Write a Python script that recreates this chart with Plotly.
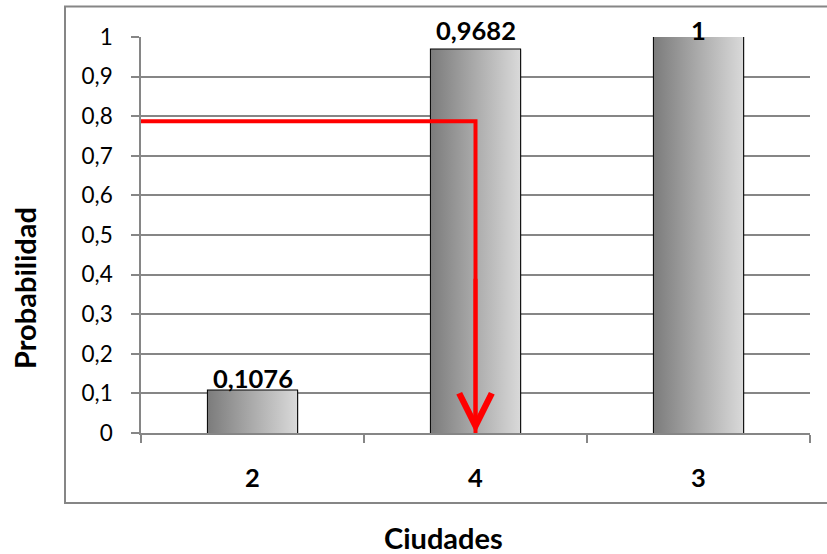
import plotly.graph_objects as go

# Data
ciudades = ["2", "4", "3"]
probabilidad = [0.1076, 0.9682, 1.0]
etiquetas = ["0,1076", "0,9682", "1"]
y_tick_vals = [0, 0.1, 0.2, 0.3, 0.4, 0.5, 0.6, 0.7, 0.8, 0.9, 1.0]
y_tick_text = ["0", "0,1", "0,2", "0,3", "0,4", "0,5", "0,6", "0,7", "0,8", "0,9", "1"]
valor_aleatorio = 0.787          # level of the red reading line
ciudad_elegida = "4"             # category the arrow lands on

# Page geometry (pixels)
W, H = 827, 554
ML, MR, MT, MB = 141, 17, 37, 121
PW = W - ML - MR
PH = H - MT - MB


def paper_x(px):
    return (px - ML) / PW


def paper_y(py):
    return (H - MB - py) / PH


FONT = "Lato"
GRID = "#868686"
BAR_W = 0.4
GRADIENT = [[0.0, "#7c7c7c"], [0.5, "#ababab"], [1.0, "#d9d9d9"]]
LABEL_SHIFT = [12, 20, 7]        # px from bar top to label centre

x_pos = list(range(len(ciudades)))
x_elegida = ciudades.index(ciudad_elegida)

fig = go.Figure()

# soft shadow behind each bar
for i, v in zip(x_pos, probabilidad):
    x0, x1 = i - BAR_W / 2, i + BAR_W / 2
    fig.add_trace(go.Bar(
        x=[i], y=[v], width=BAR_W, offset=-BAR_W / 2 + 0.008,
        marker=dict(color="rgba(0,0,0,0.12)", line=dict(width=0)),
        hoverinfo="skip", showlegend=False,
    ))

# gradient fill of each bar
for i, v in zip(x_pos, probabilidad):
    x0, x1 = i - BAR_W / 2, i + BAR_W / 2
    fig.add_trace(go.Scatter(
        x=[x0, x1, x1, x0, x0], y=[0, 0, v, v, 0],
        mode="lines", fill="toself",
        fillgradient=dict(type="horizontal", colorscale=GRADIENT),
        line=dict(width=0), hoverinfo="skip", showlegend=False,
    ))

# bar outlines
fig.add_trace(go.Bar(
    x=x_pos, y=probabilidad, width=BAR_W,
    marker=dict(color="rgba(0,0,0,0)", line=dict(color="black", width=2)),
    hoverinfo="skip", showlegend=False,
))

# red reading line: across from the axis, then down to the chosen city
fig.add_trace(go.Scatter(
    x=[-0.5, x_elegida, x_elegida], y=[valor_aleatorio, valor_aleatorio, 0],
    mode="lines", line=dict(color="red", width=4),
    hoverinfo="skip", showlegend=False,
))
fig.add_annotation(
    x=x_elegida, y=0, ax=x_elegida, ay=valor_aleatorio * 0.5,
    xref="x", yref="y", axref="x", ayref="y",
    text="", showarrow=True, arrowhead=5, arrowsize=1.6, arrowwidth=4,
    arrowcolor="red", standoff=0,
)

# value labels
for i, v, t, s in zip(x_pos, probabilidad, etiquetas, LABEL_SHIFT):
    fig.add_annotation(
        x=i, y=v, text=t, showarrow=False, yanchor="middle", yshift=s,
        font=dict(family=FONT, size=25.5, color="black", weight="bold"),
    )

# axis titles
fig.add_annotation(
    x=paper_x(443.5), y=paper_y(537), xref="paper", yref="paper",
    text="Ciudades", showarrow=False, xanchor="center", yanchor="middle",
    font=dict(family=FONT, size=29, color="black", weight="bold"),
)
fig.add_annotation(
    x=paper_x(24), y=paper_y(288), xref="paper", yref="paper",
    text="Probabilidad", showarrow=False, textangle=-90,
    xanchor="center", yanchor="middle",
    font=dict(family=FONT, size=29, color="black", weight="bold"),
)

# chart frame
fig.add_shape(
    type="rect", xref="paper", yref="paper",
    x0=paper_x(65), x1=paper_x(840), y0=paper_y(503), y1=paper_y(6.5),
    line=dict(color=GRID, width=2), fillcolor="rgba(0,0,0,0)", layer="below",
)

fig.update_layout(
    width=W, height=H,
    margin=dict(l=ML, r=MR, t=MT, b=MB, pad=0),
    paper_bgcolor="white", plot_bgcolor="white",
    showlegend=False, hovermode=False, barmode="overlay",
    xaxis=dict(
        range=[-0.5, len(ciudades) - 0.5], tickmode="array",
        tickvals=x_pos, ticktext=ciudades, ticks="",
        showline=True, linecolor=GRID, linewidth=1.5,
        showgrid=False, zeroline=False, fixedrange=True,
        tickfont=dict(family=FONT, size=25.5, color="black", weight="bold"),
        ticklabelstandoff=22,
        minor=dict(
            tickmode="array",
            tickvals=[p - 0.5 for p in x_pos] + [len(ciudades) - 0.5],
            ticks="outside", ticklen=8, tickcolor=GRID, tickwidth=1.5,
            showgrid=False,
        ),
    ),
    yaxis=dict(
        range=[0, 1], tickmode="array",
        tickvals=y_tick_vals, ticktext=y_tick_text,
        ticks="outside", ticklen=8, tickcolor=GRID, tickwidth=1.5,
        showline=True, linecolor=GRID, linewidth=1.5,
        showgrid=True, gridcolor=GRID, gridwidth=1.5,
        zeroline=False, fixedrange=True,
        tickfont=dict(family=FONT, size=22.5, color="black"),
        ticklabelstandoff=14,
    ),
)

fig.write_html("out.html", config={"displayModeBar": False})
